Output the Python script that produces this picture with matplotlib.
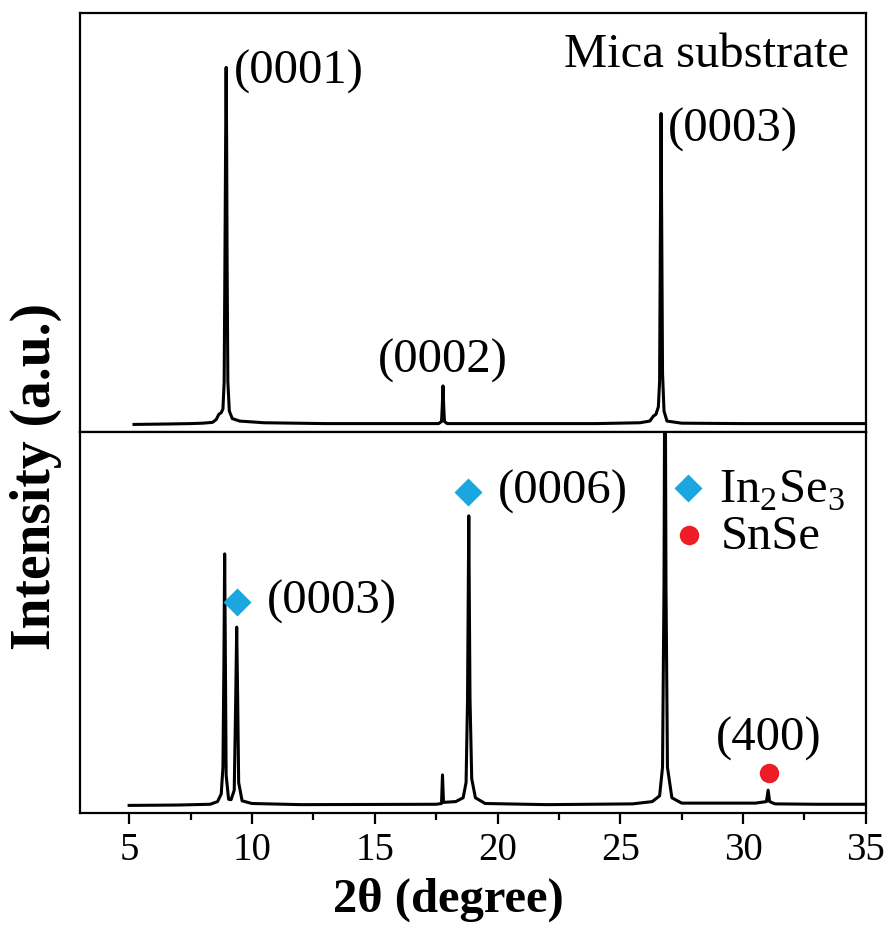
import matplotlib
matplotlib.use('Agg')
import matplotlib.pyplot as plt

plt.rcParams['font.family'] = ['Liberation Serif', 'DejaVu Serif']
plt.rcParams['mathtext.fontset'] = 'custom'
plt.rcParams['mathtext.rm'] = 'Liberation Serif'

# Mica substrate trace (2theta, intensity a.u.)
top_tth = [5.2, 6.5, 7.5, 8.0, 8.4, 8.55, 8.65, 8.75, 8.82, 8.87, 8.9, 8.93, 8.95,
           8.97, 8.99, 9.02, 9.08, 9.2, 9.5, 10.5, 13.0, 16.0, 17.6, 17.72, 17.75,
           17.78, 17.81, 17.84, 17.95, 20.0, 24.0, 25.8, 26.2, 26.35, 26.45, 26.55,
           26.6, 26.63, 26.66, 26.69, 26.72, 26.78, 26.9, 27.5, 30.0, 33.0, 35.0]
top_int = [1.8, 1.9, 2.0, 2.1, 2.3, 3.0, 4.2, 4.6, 5.5, 12, 40, 70, 87,
           70, 40, 12, 5.0, 3.2, 2.6, 2.2, 2.0, 2.0, 2.0, 2.5, 6.0,
           11, 6.0, 2.5, 2.0, 2.0, 2.0, 2.2, 2.6, 3.8, 4.2, 6.0,
           12, 45, 76, 45, 14, 5.0, 2.6, 2.1, 2.0, 2.0, 2.0]

# In2Se3 / SnSe on mica trace
bot_tth = [5.0, 7.0, 8.3, 8.6, 8.75, 8.82, 8.86, 8.89, 8.92, 8.95, 9.05, 9.15,
           9.28, 9.34, 9.38, 9.42, 9.46, 9.6, 10.0, 12.0, 17.5, 17.72, 17.76,
           17.8, 18.3, 18.6, 18.72, 18.78, 18.83, 18.88, 18.95, 19.1, 19.5, 22.0,
           25.5, 26.3, 26.6, 26.72, 26.78, 26.82, 26.86, 26.92, 27.1, 27.5, 29.0,
           30.5, 30.95, 31.02, 31.08, 31.3, 33.0, 35.0]
bot_int = [2.0, 2.1, 2.3, 3.0, 5.0, 12, 40, 68, 40, 10, 3.6, 3.5,
           6.0, 30, 48.8, 30, 8.0, 3.2, 2.5, 2.2, 2.3, 2.5, 10,
           2.8, 3.0, 4.0, 8.0, 30, 78, 30, 9.0, 4.0, 2.5, 2.2,
           2.4, 3.0, 4.5, 12, 60, 140, 60, 12, 4.0, 2.6, 2.6,
           2.6, 3.0, 6.0, 3.0, 2.4, 2.3, 2.3]

# peak labels
top_labels = ["(0001)", "(0002)", "(0003)"]
top_label_x = [9.25, 17.78, 26.95]
top_label_y = [86, 17, 72]

inse_x = [9.39, 18.8]
inse_y = [55.4, 84.3]
inse_labels = ["(0003)", "(0006)"]
snse_x = [31.04]
snse_y = [10.5]
snse_labels = ["(400)"]

fig = plt.figure(figsize=(8.89, 9.26), dpi=100)
ax1 = fig.add_axes([0.090, 0.5335, 0.884, 0.4525])
ax2 = fig.add_axes([0.090, 0.122, 0.884, 0.4115])

blue = '#1aa7e0'
red = '#ee1c25'

for ax in (ax1, ax2):
    ax.set_xlim(3, 35)
    ax.set_ylim(0, 100)
    ax.set_yticks([])
    for s in ax.spines.values():
        s.set_linewidth(1.6)

ax1.plot(top_tth, top_int, color='black', lw=2.2)
ax1.tick_params(axis='x', bottom=False, labelbottom=False)
for lab, x, y in zip(top_labels, top_label_x, top_label_y):
    ha = 'center' if lab == "(0002)" else 'left'
    ax1.text(x, y, lab, fontsize=35, ha=ha, va='center')
ax1.text(34.3, 90, "Mica substrate", fontsize=35, ha='right', va='center')

ax2.plot(bot_tth, bot_int, color='black', lw=2.2)
ax2.plot(inse_x, inse_y, 'D', color=blue, ms=14, mec='none')
ax2.plot(snse_x, snse_y, 'o', color=red, ms=14, mec='none')
ax2.text(10.6, inse_y[0], inse_labels[0], fontsize=35, ha='left', va='center')
ax2.text(20.0, inse_y[1], inse_labels[1], fontsize=35, ha='left', va='center')
ax2.text(snse_x[0], 19.5, snse_labels[0], fontsize=35, ha='center', va='center')

# legend drawn as markers + text
ax2.plot([27.75], [85.3], 'D', color=blue, ms=14, mec='none')
ax2.plot([27.8], [73.0], 'o', color=red, ms=14, mec='none')
ax2.text(29.0, 84.5, r"In$_2$Se$_3$", fontsize=35, ha='left', va='center')
ax2.text(29.1, 72.5, "SnSe", fontsize=35, ha='left', va='center')

ax2.set_xticks([5, 10, 15, 20, 25, 30, 35])
ax2.set_xticks([7.5, 12.5, 17.5, 22.5, 27.5, 32.5], minor=True)
ax2.tick_params(axis='x', which='major', direction='out', length=8, width=1.6,
                labelsize=28, pad=6)
ax2.tick_params(axis='x', which='minor', direction='out', length=5, width=1.6)
ax2.set_xlabel("2θ (degree)", fontsize=35, fontweight='bold')
ax2.xaxis.set_label_coords(0.469, -0.228)
ax2.xaxis.label.set_va('center')

fig.text(0.040, 1 - 476 / 926, "Intensity (a.u.)", fontsize=40, fontweight='bold',
         rotation=90, ha='center', va='center')

fig.savefig('out.png', dpi=100)
